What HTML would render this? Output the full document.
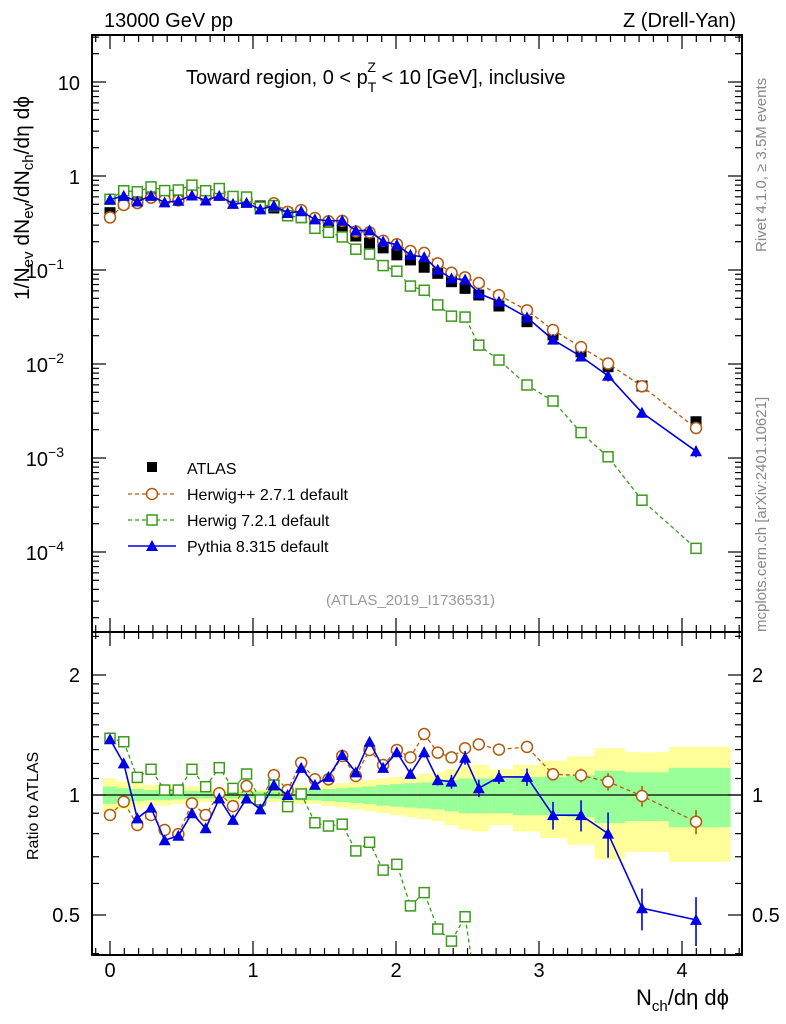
<!DOCTYPE html>
<html><head><meta charset="utf-8"><style>
html,body{margin:0;padding:0;background:#fff;overflow:hidden;width:786px;height:1024px}
svg{display:block;position:absolute;left:0;top:0;font-family:"Liberation Sans",sans-serif}
</style></head><body>
<svg id="plot" width="786" height="1024" viewBox="0 0 786 1024" xmlns="http://www.w3.org/2000/svg">
<defs>
<clipPath id="clipMain"><rect x="92" y="35" width="650" height="597"/></clipPath>
<clipPath id="clipRatio"><rect x="92" y="632" width="650" height="323"/></clipPath>
</defs>
<rect x="0" y="0" width="786" height="1024" fill="#fff"/>
<g id="bands" clip-path="url(#clipRatio)"></g>
<line x1="92" y1="795" x2="742" y2="795" stroke="#000" stroke-width="1.2"/>
<g id="ticks"></g>
<g id="mainMarks" clip-path="url(#clipMain)"></g>
<g id="ratioMarks" clip-path="url(#clipRatio)"></g>
<rect x="92" y="35" width="650" height="597" fill="none" stroke="#000" stroke-width="2"/>
<rect x="92" y="632" width="650" height="323" fill="none" stroke="#000" stroke-width="2"/>
<text x="104" y="27" font-size="20">13000 GeV pp</text>
<text x="736" y="27" font-size="20" text-anchor="end">Z (Drell-Yan)</text>
<text x="186" y="84" font-size="20">Toward region, 0 &lt; p<tspan font-size="14" dy="8">T</tspan><tspan font-size="14" dx="-9" dy="-20">Z</tspan><tspan dy="12"> &lt; 10 [GeV], inclusive</tspan></text>
<text transform="translate(29,300) rotate(-90)" font-size="21">1/N<tspan font-size="15" dy="4">ev</tspan><tspan dy="-4"> dN</tspan><tspan font-size="15" dy="4">ev</tspan><tspan dy="-4">/dN</tspan><tspan font-size="15" dy="4">ch</tspan><tspan dy="-4">/dη dϕ</tspan></text>
<text transform="translate(38,860) rotate(-90)" font-size="16">Ratio to ATLAS</text>
<text x="636" y="1005" font-size="22">N<tspan font-size="15" dy="6">ch</tspan><tspan dy="-6">/dη dϕ</tspan></text>
<text transform="translate(766,252) rotate(-90)" font-size="15" fill="#888">Rivet 4.1.0, ≥ 3.5M events</text>
<text transform="translate(766,632) rotate(-90)" font-size="15" fill="#888">mcplots.cern.ch [arXiv:2401.10621]</text>
<text x="326" y="605" font-size="15" fill="#999">(ATLAS_2019_I1736531)</text>
<g>
<rect x="147" y="462" width="10" height="10" fill="#000"/>
<text x="187" y="474" font-size="16">ATLAS</text>
<line x1="128" y1="494" x2="176" y2="494" stroke="#b35a10" stroke-width="1.3" stroke-dasharray="4,3"/>
<circle cx="152" cy="494" r="5.5" fill="#fff" stroke="#b35a10" stroke-width="1.5"/>
<text x="187" y="500" font-size="16">Herwig++ 2.7.1 default</text>
<line x1="128" y1="520" x2="176" y2="520" stroke="#3c9a1c" stroke-width="1.3" stroke-dasharray="4,3"/>
<rect x="147" y="515" width="10" height="10" fill="#fff" stroke="#3c9a1c" stroke-width="1.5"/>
<text x="187" y="526" font-size="16">Herwig 7.2.1 default</text>
<line x1="128" y1="546" x2="176" y2="546" stroke="#0000e6" stroke-width="1.5"/>
<polygon points="152,540 158,551 146,551" fill="#0000e6"/>
<text x="187" y="552" font-size="16">Pythia 8.315 default</text>
</g>
</svg>
<script>
const xvals=[0,0.096,0.191,0.287,0.382,0.478,0.573,0.669,0.764,0.860,0.955,1.051,1.146,1.242,1.337,1.433,1.528,1.624,1.719,1.815,1.910,2.006,2.101,2.197,2.292,2.388,2.483,2.579,2.72,2.916,3.098,3.294,3.483,3.72,4.098];
const atlas=[0.407,0.512,0.613,0.66,0.68,0.69,0.69,0.665,0.628,0.583,0.529,0.48,0.457,0.404,0.360,0.326,0.301,0.266,0.230,0.194,0.172,0.145,0.128,0.107,0.0922,0.0751,0.0638,0.0542,0.0414,0.0282,0.0204,0.0135,0.00936,0.00583,0.00243];
const ratioPythia=[1.38,1.20,0.874,0.93,0.77,0.79,0.90,0.825,0.98,0.866,0.98,0.92,1.06,1.0,1.17,1.06,1.11,1.26,1.14,1.36,1.17,1.28,1.13,1.28,1.09,1.08,1.24,1.04,1.11,1.11,0.89,0.89,0.80,0.52,0.486];
const ratioHerwigpp=[0.891,0.962,0.841,0.891,0.817,0.798,0.953,0.891,1.01,0.938,1.053,0.962,1.122,1.029,1.205,1.095,1.095,1.253,1.116,1.297,1.189,1.297,1.243,1.422,1.277,1.243,1.31,1.34,1.30,1.32,1.127,1.12,1.08,0.994,0.857];
const ratioHerwig7=[1.388,1.36,1.107,1.16,1.029,1.029,1.16,1.049,1.171,1.039,1.129,0.972,1.059,0.935,1.006,0.852,0.836,0.845,0.724,0.761,0.648,0.670,0.527,0.569,0.461,0.43,0.495,0.293,0.266,0.212,0.198,0.138,0.110,0.061,0.045];
const errPythia=[0,0,0,0,0,0,0,0,0,0,0,0,0,0,0,0,0,0.02,0.01,0.02,0.02,0.02,0.02,0.03,0.03,0.04,0.04,0.05,0.04,0.05,0.08,0.09,0.13,0.12,0.14];
const errHerwigpp=[0,0,0,0,0,0,0,0,0,0,0,0,0,0,0,0,0,0,0,0,0,0,0,0,0,0,0,0,0,0.02,0.03,0.04,0.05,0.06,0.07];
const totErr=[0.10,0.08,0.07,0.06,0.06,0.05,0.05,0.04,0.04,0.04,0.03,0.03,0.04,0.04,0.05,0.05,0.06,0.07,0.08,0.09,0.10,0.11,0.12,0.13,0.14,0.16,0.18,0.19,0.16,0.19,0.22,0.25,0.31,0.28,0.32];
const statErr=[0.05,0.04,0.035,0.03,0.03,0.025,0.025,0.02,0.02,0.02,0.02,0.02,0.02,0.025,0.03,0.03,0.035,0.04,0.045,0.05,0.06,0.065,0.07,0.075,0.08,0.09,0.10,0.10,0.10,0.11,0.11,0.12,0.15,0.14,0.17];
const xTickLabels=["0","1","2","3","4"];
const yMainTicks=[10,1,0.1,0.01,0.001,0.0001];
const yMainLabels=[["10",""],["1",""],["10","−1"],["10","−2"],["10","−3"],["10","−4"]];
const ratioTickLabels=["0.5","1","2"];
const ratioTickValues=[0.5,1,2];

const NS="http://www.w3.org/2000/svg";
const X=v=>110+143*v;
const YM=v=>176-94*Math.log10(v);
const YR=r=>795-120*Math.log2(r);
function mk(tag,attrs,parent){const e=document.createElementNS(NS,tag);for(const k in attrs)e.setAttribute(k,attrs[k]);parent.appendChild(e);return e;}
const svg=document.getElementById('plot');
const bands=document.getElementById('bands'),ticks=document.getElementById('ticks'),mainG=document.getElementById('mainMarks'),ratG=document.getElementById('ratioMarks');

for(let i=0;i<xvals.length;i++){
  const lo=i===0?-0.05:(xvals[i-1]+xvals[i])/2;
  const hi=i===xvals.length-1?4.34:(xvals[i]+xvals[i+1])/2;
  const y=mk('rect',{x:X(lo),y:YR(1+totErr[i]),width:X(hi)-X(lo),height:YR(1-totErr[i])-YR(1+totErr[i]),fill:'#ffff99'},bands);
  
  
  const g=mk('rect',{x:X(lo),y:YR(1+statErr[i]),width:X(hi)-X(lo),height:YR(1-statErr[i])-YR(1+statErr[i]),fill:'#99ff99'},bands);
  
  
}

for(let k=-1;k<=44;k++){
  const v=k/10; const px=X(v); if(px<93||px>741)continue;
  const major=k%10===0; const len=major?14:7;
  for(const [top,bot] of [[35,632],[632,955]]){
    mk('line',{x1:px,y1:bot,x2:px,y2:bot-len,stroke:'#000','stroke-width':1.2},ticks);
    mk('line',{x1:px,y1:top,x2:px,y2:top+len,stroke:'#000','stroke-width':1.2},ticks);
  }
}
xTickLabels.forEach((l,i)=>{const t=mk('text',{x:X(i),y:977,'font-size':20,'text-anchor':'middle'},svg);t.textContent=l;

});

for(let d=-5;d<=1;d++){
  for(let m=1;m<=9;m++){
    const v=m*Math.pow(10,d); const py=YM(v); if(py<36||py>631)continue;
    const len=m===1?14:7;
    mk('line',{x1:92,y1:py,x2:92+len,y2:py,stroke:'#000','stroke-width':1.2},ticks);
    mk('line',{x1:742,y1:py,x2:742-len,y2:py,stroke:'#000','stroke-width':1.2},ticks);
  }
}
yMainTicks.forEach((v,i)=>{const t=mk('text',{x:80,y:YM(v)+8,'font-size':20,'text-anchor':'end'},svg);


if(yMainLabels[i][1]){t.setAttribute('x',64);t.textContent=yMainLabels[i][0];const s=mk('tspan',{'font-size':14,dy:-9},t);s.textContent=yMainLabels[i][1];}else{t.textContent=yMainLabels[i][0];}
});

const rminor=[0.4,0.5,0.6,0.7,0.8,0.9,1,1.1,1.2,1.3,1.4,1.5,1.6,1.7,1.8,1.9,2,2.5];
rminor.forEach(r=>{const py=YR(r);if(py<633||py>954)return;const len=(r===0.5||r===1||r===2)?14:7;
mk('line',{x1:92,y1:py,x2:92+len,y2:py,stroke:'#000','stroke-width':1.2},ticks);
mk('line',{x1:742,y1:py,x2:742-len,y2:py,stroke:'#000','stroke-width':1.2},ticks);});
ratioTickValues.forEach((r,i)=>{
 const a=mk('text',{x:80,y:YR(r)+7,'font-size':20,'text-anchor':'end'},svg);a.textContent=ratioTickLabels[i];
 
 
 const b=mk('text',{x:752,y:YR(r)+7,'font-size':20},svg);b.textContent=ratioTickLabels[i];
 
 
});

function drawSeries(g,vals,Yf,color,dash,marker,name,errs){
  const pts=vals.map((v,i)=>X(xvals[i]).toFixed(1)+','+Yf(v).toFixed(1)).join(' ');
  const l=mk('polyline',{points:pts,fill:'none',stroke:color,'stroke-width':dash?1.3:1.6,'stroke-dasharray':dash?'4,3':'none'},g);
  
  
  vals.forEach((v,i)=>{
    const cx=X(xvals[i]),cy=Yf(v);let e;
    if(errs&&errs[i]>0){const eb=mk('line',{x1:cx,y1:Yf(v*(1+errs[i])),x2:cx,y2:Yf(v*(1-errs[i])),stroke:color,'stroke-width':1.6},g);
      
      }
    if(marker==='sq') e=mk('rect',{x:cx-5,y:cy-5,width:10,height:10,fill:'#fff',stroke:color,'stroke-width':1.5},g);
    else if(marker==='circ') e=mk('circle',{cx:cx,cy:cy,r:5.5,fill:'#fff',stroke:color,'stroke-width':1.5},g);
    else e=mk('polygon',{points:`${cx},${cy-6} ${cx+6},${cy+5} ${cx-6},${cy+5}`,fill:color},g);
    
    
  });
}
const hpp=atlas.map((a,i)=>a*ratioHerwigpp[i]);
const h7=atlas.map((a,i)=>a*ratioHerwig7[i]);
const py8=atlas.map((a,i)=>a*ratioPythia[i]);
atlas.forEach((a,i)=>{const r=mk('rect',{x:X(xvals[i])-5.5,y:YM(a)-5.5,width:11,height:11,fill:'#000'},mainG);

});
drawSeries(mainG,hpp,YM,'#b35a10',true,'circ','herwigpp',errHerwigpp);
drawSeries(mainG,h7,YM,'#3c9a1c',true,'sq','herwig7',null);
drawSeries(mainG,py8,YM,'#0000e6',false,'tri','pythia',errPythia);
drawSeries(ratG,ratioHerwigpp,YR,'#b35a10',true,'circ','herwigpp-ratio',errHerwigpp);
drawSeries(ratG,ratioHerwig7,YR,'#3c9a1c',true,'sq','herwig7-ratio',null);
drawSeries(ratG,ratioPythia,YR,'#0000e6',false,'tri','pythia-ratio',errPythia);
</script>
</body></html>
